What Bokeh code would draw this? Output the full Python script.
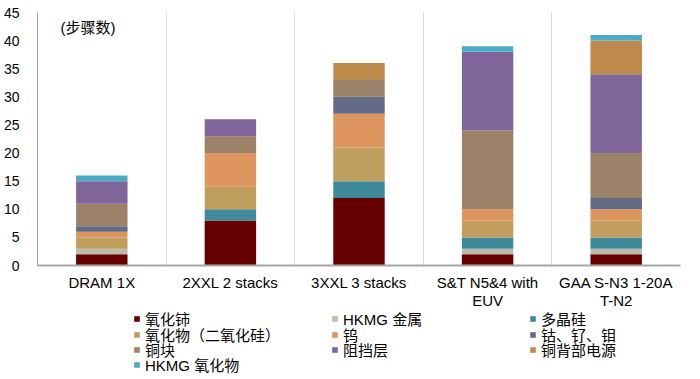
from bokeh.plotting import figure
from bokeh.models import (Range1d, FixedTicker, Legend, LegendItem, Label, Grid)
from bokeh.layouts import column
from bokeh.embed import file_html
from bokeh.resources import INLINE

categories = ["DRAM 1X", "2XXL 2 stacks", "3XXL 3 stacks",
              "S&T N5&4 with\nEUV", "GAA S-N3 1-20A\nT-N2"]
series_names = ["氧化铈", "HKMG 金属", "多晶硅", "氧化物（二氧化硅）", "钨",
                "钴、钌、钼", "铜块", "阻挡层", "铜背部电源", "HKMG 氧化物"]
ceria      = [2, 8, 12, 2, 2]
hkmg_metal = [1, 0, 0, 1, 1]
polysi     = [0, 2, 3, 2, 2]
oxide      = [2, 4, 6, 3, 3]
tungsten   = [1, 6, 6, 2, 2]
cobalt     = [1, 0, 3, 0, 2]
copper     = [4, 3, 3, 14, 8]
barrier    = [4, 3, 0, 14, 14]
bspd       = [0, 0, 3, 0, 6]
hkmg_oxide = [1, 0, 0, 1, 1]
y_ticks = [0, 5, 10, 15, 20, 25, 30, 35, 40, 45]

colors = ["#660000", "#bdbca8", "#3e8a9b", "#bf9e5e", "#de945f",
          "#636a85", "#9b8268", "#7f6599", "#bd8a4b", "#4aabc6"]

keys = ["s%d" % i for i in range(10)]
data = {"x": [i + 0.5 for i in range(len(categories))]}
for k, vals in zip(keys, [ceria, hkmg_metal, polysi, oxide, tungsten,
                          cobalt, copper, barrier, bspd, hkmg_oxide]):
    data[k] = vals

LAT = "Liberation Sans, Noto Sans CJK SC"

p = figure(width=684, height=312, output_backend="svg", toolbar_location=None,
           x_range=Range1d(0, len(categories)), y_range=Range1d(0, 45),
           min_border_left=32, min_border_right=4, min_border_top=12,
           min_border_bottom=46)
p.outline_line_color = None
p.background_fill_color = "white"
p.border_fill_color = "white"

p.vbar_stack(keys, x="x", width=0.4, source=data, color=colors, line_color=None)

# axes
p.xaxis.ticker = FixedTicker(ticks=data["x"])
p.xaxis.major_label_overrides = {x: c for x, c in zip(data["x"], categories)}
p.xaxis.major_tick_line_color = None
p.xaxis.minor_tick_line_color = None
p.xaxis.axis_line_color = "#a6a6a6"
p.xaxis.axis_line_width = 2
p.xaxis.major_label_text_font = LAT
p.xaxis.major_label_text_font_size = "15px"
p.xaxis.major_label_text_color = "#000000"
p.xaxis.major_label_text_line_height = 1.1
p.xaxis.major_label_standoff = 2

p.yaxis.ticker = FixedTicker(ticks=y_ticks)
p.yaxis.major_tick_line_color = None
p.yaxis.minor_tick_line_color = None
p.yaxis.axis_line_color = "#a6a6a6"
p.yaxis.major_label_text_font = LAT
p.yaxis.major_label_text_font_size = "14px"
p.yaxis.major_label_text_color = "#000000"
p.yaxis.major_label_standoff = 12

p.xgrid.visible = False
p.ygrid.visible = False
p.add_layout(Grid(dimension=0, ticker=FixedTicker(ticks=[1, 2, 3, 4, 5]),
                  grid_line_color="#d9d9d9", grid_line_width=1))

p.add_layout(Label(x=23, y=230, x_units="screen", y_units="screen",
                   text="(步骤数)", text_font=LAT, text_font_size="15px",
                   text_color="#000000"))

# legend panel (separate figure below the chart); its bars lie outside its view
lg = figure(width=684, height=65, output_backend="svg", toolbar_location=None,
            x_range=Range1d(0, len(categories)), y_range=Range1d(100, 101),
            x_axis_location=None, y_axis_location=None,
            min_border_left=0, min_border_right=0, min_border_top=0,
            min_border_bottom=0)
lg.grid.visible = False
lg.outline_line_color = None
lg_renderers = lg.vbar_stack(keys, x="x", width=0.4, source=data,
                             color=colors, line_color=None)

col_x = [96, 294, 492]
row_y = [48, 32.5, 17.5, 2.5]
for i, (name, r) in enumerate(zip(series_names, lg_renderers)):
    leg = Legend(items=[LegendItem(label=name, renderers=[r])],
                 location=(col_x[i % 3], row_y[i // 3]),
                 glyph_width=7, glyph_height=7, label_standoff=5,
                 label_height=7, spacing=0, padding=0, margin=0,
                 border_line_color=None, background_fill_alpha=0,
                 label_text_font=LAT, label_text_font_size="15px",
                 label_text_color="#000000")
    lg.add_layout(leg, "center")

layout = column(p, lg, spacing=0)
open("out.html", "w").write(file_html(layout, INLINE))
